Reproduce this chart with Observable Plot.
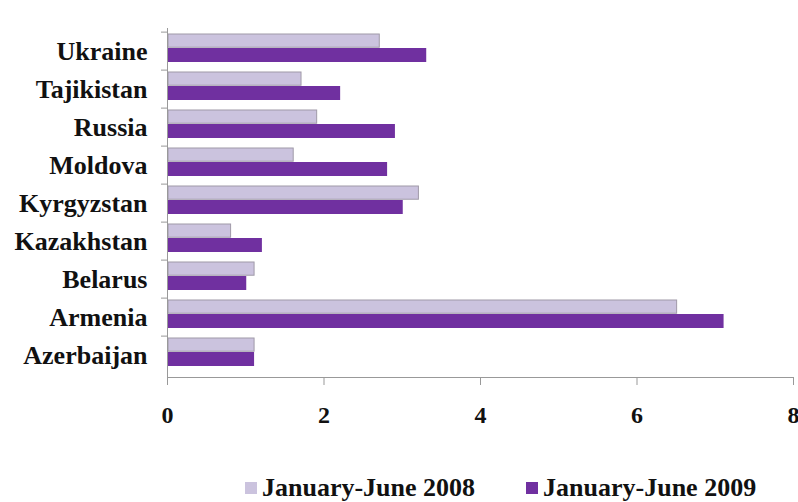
<!DOCTYPE html>
<html>
<head>
<meta charset="utf-8">
<script src="https://cdn.jsdelivr.net/npm/d3@7"></script>
<script src="https://cdn.jsdelivr.net/npm/@observablehq/plot@0.6"></script>
<style>
  html, body { margin: 0; padding: 0; background: #fff; }
  #chart svg { display: block; overflow: visible; }
  .legend { display: flex; justify-content: flex-start; align-items: center; height: 28px;
    font-family: "Liberation Serif", "Times New Roman", serif; font-weight: bold; font-size: 26px; color: #111; }
  .legend .item { display: flex; align-items: center; }
  .legend .sw { width: 12px; height: 12px; margin-right: 5px; }
</style>
</head>
<body>
<div id="chart"></div>
<script>
const countries = ["Ukraine","Tajikistan","Russia","Moldova","Kyrgyzstan","Kazakhstan","Belarus","Armenia","Azerbaijan"];
const v2008 = [2.7, 1.7, 1.9, 1.6, 3.2, 0.8, 1.1, 6.5, 1.1];
const v2009 = [3.3, 2.2, 2.9, 2.8, 3.0, 1.2, 1.0, 7.1, 1.1];
const xTicks = [0, 2, 4, 6, 8];
const seriesLabels = ["January-June 2008", "January-June 2009"];
const seriesColors = ["#cbc3de", "#7030a0"];

const rows2008 = countries.map((c, i) => ({country: c, value: v2008[i]}));
const rows2009 = countries.map((c, i) => ({country: c, value: v2009[i]}));

const H = 474, mTop = 28, mBottom = 97;
const band = (H - mTop - mBottom) / countries.length;
const font = "'Liberation Serif', 'Times New Roman', serif";

const plot = Plot.plot({
  width: 798,
  height: H,
  marginLeft: 167,
  marginRight: 5,
  marginTop: mTop,
  marginBottom: mBottom,
  style: {fontFamily: font, background: "#fff", color: "#111"},
  x: {domain: [0, 8]},
  y: {domain: countries, padding: 0},
  marks: [
    Plot.barX(rows2008, {y: "country", x: "value", fill: seriesColors[0], stroke: "#a09aa8", strokeWidth: 1,
      insetTop: 2, insetBottom: band - 16, dx: 1}),
    Plot.barX(rows2009, {y: "country", x: "value", fill: seriesColors[1],
      insetTop: 16, insetBottom: 8, dx: 1}),
    Plot.frame({anchor: "left", stroke: "#999"}),
    Plot.frame({anchor: "bottom", stroke: "#999"}),
    Plot.axisY({tickSize: 6, text: null, label: null, dy: -band / 2, stroke: "#999"}),
    Plot.axisY({tickSize: 0, tickPadding: 20, fontSize: 26, fontWeight: "bold", label: null, fill: "#111"}),
    Plot.axisX({ticks: xTicks, tickSize: 8, tickPadding: 20, stroke: "#999", fontSize: 24, fontWeight: "bold", label: null, tickFormat: d => String(d), fill: "#111"})
  ]
});
document.getElementById("chart").appendChild(plot);

const legend = document.createElement("div");
legend.className = "legend";
legend.style.paddingLeft = "245px";
seriesLabels.forEach((lab, i) => {
  const it = document.createElement("div");
  it.className = "item";
  if (i > 0) it.style.marginLeft = "51px";
  const sw = document.createElement("span");
  sw.className = "sw";
  sw.style.background = seriesColors[i];
  const t = document.createElement("span");
  t.textContent = lab;
  it.appendChild(sw); it.appendChild(t);
  legend.appendChild(it);
});
document.body.appendChild(legend);
</script>
</body>
</html>
